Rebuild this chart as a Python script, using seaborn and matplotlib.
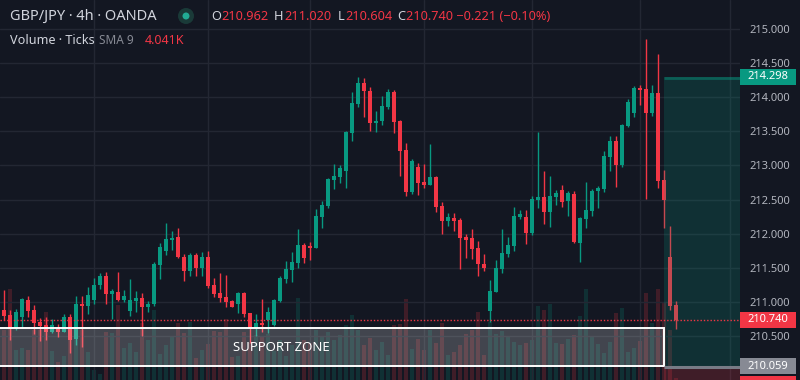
import numpy as np
import pandas as pd
import matplotlib
matplotlib.use("Agg")
import matplotlib.pyplot as plt
import matplotlib.transforms as mtransforms
from matplotlib.patches import Rectangle, Ellipse
import seaborn as sns

# GBP/JPY 4h свечи (O/H/L/C), индекс -1..112
opens = [210.767,
    210.884, 210.811, 210.621, 210.782, 211.031, 210.884, 210.709, 210.665, 210.567, 210.617,
    210.567, 210.786, 210.461, 210.972, 210.943, 211.031, 211.250, 211.382, 211.118, 211.148,
    211.031, 210.870, 211.021, 211.056, 210.933, 210.968, 211.547, 211.752, 211.908, 211.952,
    211.664, 211.459, 211.689, 211.494, 211.659, 211.250, 211.133, 211.075, 211.016, 210.968,
    211.133, 210.836, 210.621, 210.690, 210.738, 210.665, 211.021, 211.342, 211.469, 211.576,
    211.835, 211.820, 211.795, 212.249, 212.405, 212.785, 212.833, 212.921, 213.476, 213.901,
    214.199, 214.086, 213.623, 213.648, 213.857, 214.072, 213.648, 213.224, 212.614, 212.975,
    212.760, 212.716, 212.829, 212.405, 212.190, 212.230, 212.200, 211.956, 211.942, 211.791,
    211.557, 210.874, 211.152, 211.488, 211.708, 211.825, 212.249, 212.244, 212.015, 212.493,
    212.537, 212.317, 212.537, 212.639, 212.478, 212.580, 211.864, 212.215, 212.332, 212.624,
    212.653, 213.121, 213.355, 213.004, 213.575, 213.765, 214.130, 214.116, 213.765, 214.057,
    212.785, 211.659, 210.962]
closes = [210.884,
    210.797, 210.621, 210.855, 211.050, 210.874, 210.699, 210.655, 210.567, 210.665, 210.567,
    210.786, 210.446, 210.972, 210.943, 211.104, 211.250, 211.382, 211.118, 211.167, 211.031,
    211.089, 211.031, 211.056, 210.933, 210.972, 211.557, 211.810, 211.923, 211.937, 211.664,
    211.459, 211.689, 211.503, 211.659, 211.235, 211.123, 211.060, 211.006, 210.933, 211.133,
    210.826, 210.621, 210.690, 210.665, 210.851, 211.031, 211.348, 211.484, 211.586, 211.835,
    211.649, 211.795, 212.259, 212.420, 212.800, 212.844, 212.961, 213.487, 213.911, 214.199,
    214.091, 213.623, 213.648, 213.867, 214.072, 213.637, 213.213, 212.614, 213.063, 212.746,
    212.716, 212.829, 212.395, 212.190, 212.244, 212.190, 211.942, 211.912, 211.781, 211.561,
    211.503, 211.162, 211.498, 211.718, 211.835, 212.259, 212.288, 212.015, 212.507, 212.537,
    212.317, 212.551, 212.595, 212.463, 212.595, 211.879, 212.230, 212.347, 212.624, 212.668,
    213.136, 213.355, 213.004, 213.589, 213.925, 214.130, 214.101, 213.765, 214.057, 212.770,
    212.493, 210.943, 210.740]
highs = [210.958,
    211.177, 210.884, 210.899, 211.064, 211.089, 210.958, 210.763, 210.778, 210.753, 210.680,
    210.826, 210.826, 211.089, 211.089, 211.216, 211.348, 211.421, 211.440, 211.191, 211.440,
    211.177, 211.338, 211.167, 211.129, 211.016, 211.586, 211.860, 212.161, 212.044, 212.083,
    211.699, 211.722, 211.722, 211.733, 211.747, 211.357, 211.425, 211.396, 211.031, 211.148,
    211.148, 210.845, 210.826, 211.045, 210.933, 211.045, 211.382, 211.601, 211.737, 212.064,
    211.868, 211.883, 212.357, 212.485, 212.814, 213.019, 213.004, 213.501, 214.067, 214.291,
    214.276, 214.140, 213.794, 214.013, 214.115, 214.101, 213.662, 213.326, 213.092, 213.034,
    213.023, 213.311, 212.848, 212.463, 212.303, 212.303, 212.230, 211.999, 212.069, 211.893,
    211.703, 211.323, 211.616, 212.069, 211.952, 212.386, 212.347, 212.347, 212.551, 213.487,
    212.917, 212.844, 212.639, 212.712, 212.624, 212.624, 212.244, 212.756, 212.653, 212.697,
    213.209, 213.428, 213.428, 213.604, 213.969, 214.159, 214.174, 214.847, 214.174, 214.627,
    212.932, 212.113, 211.020]
lows = [210.709,
    210.738, 210.446, 210.592, 210.640, 210.786, 210.534, 210.436, 210.446, 210.553, 210.494,
    210.563, 210.260, 210.373, 210.348, 210.826, 210.972, 211.196, 210.972, 210.748, 211.012,
    211.001, 210.797, 210.860, 210.509, 210.860, 210.943, 211.342, 211.689, 211.762, 211.645,
    211.313, 211.386, 211.382, 211.382, 211.211, 211.079, 211.006, 210.933, 210.924, 210.836,
    210.786, 210.398, 210.504, 210.567, 210.553, 210.651, 211.001, 211.275, 211.298, 211.494,
    211.576, 211.616, 211.791, 212.088, 212.380, 212.658, 212.746, 212.673, 213.360, 213.857,
    213.710, 213.506, 213.491, 213.585, 213.828, 213.468, 212.848, 212.551, 212.585, 212.570,
    212.668, 212.716, 212.322, 211.999, 212.117, 212.044, 211.488, 211.649, 211.634, 211.386,
    211.459, 210.713, 211.148, 211.430, 211.664, 211.752, 212.215, 211.849, 211.981, 212.380,
    212.146, 212.102, 212.420, 212.390, 212.259, 211.864, 211.586, 212.083, 212.259, 212.376,
    212.610, 212.917, 212.683, 212.975, 213.560, 213.706, 213.881, 212.507, 213.721, 212.668,
    212.083, 210.885, 210.604]
# объём в тысячах тиков
volumes = [1.75,
    2.50, 4.55, 1.50, 1.60, 1.50, 2.50, 2.50, 3.40, 1.45, 0.90,
    1.20, 2.10, 2.15, 2.50, 1.40, 0.50, 0.30, 2.40, 2.35, 3.75,
    1.60, 1.85, 1.40, 2.85, 2.00, 3.50, 1.30, 1.75, 2.15, 2.85,
    2.35, 2.90, 1.10, 1.50, 1.80, 2.45, 2.40, 3.05, 1.15, 1.20,
    2.40, 1.85, 2.25, 2.15, 2.30, 1.45, 2.00, 1.20, 1.75, 4.10,
    2.00, 1.85, 2.50, 2.15, 2.40, 2.00, 2.25, 2.75, 3.25, 2.50,
    1.75, 2.10, 1.50, 1.90, 1.25, 2.75, 2.80, 4.05, 1.55, 2.05,
    1.50, 2.50, 1.85, 2.85, 1.25, 1.40, 1.75, 2.30, 2.50, 3.40,
    1.25, 2.90, 2.30, 2.45, 2.15, 1.90, 1.75, 1.85, 2.00, 3.70,
    3.50, 3.80, 1.85, 1.80, 2.05, 2.25, 3.20, 4.55, 2.15, 1.80,
    1.35, 1.90, 3.35, 3.60, 1.40, 1.60, 1.95, 4.35, 2.85, 4.55,
    3.85, 2.50, 0.10]

price_ticks = [210.5, 211.0, 211.5, 212.0, 212.5, 213.0, 213.5, 214.0, 214.5, 215.0]
time_grid = [15, 34, 51, 70, 88, 106, 121]

last_price = 210.740
target_price = 214.298
entry_price = 210.059
zone_low, zone_high = 210.060, 210.616
tool_start = 110

BG = "#131722"
UP = "#089981"
DOWN = "#f23645"
GRID = "#232733"
TXT = "#d1d4dc"
AXTXT = "#b2b5be"

sns.set_theme(style="dark", rc={"axes.facecolor": BG, "figure.facecolor": BG})
plt.rcParams["font.family"] = ["Noto Sans", "DejaVu Sans"]

df = pd.DataFrame({"k": np.arange(-1, len(opens) - 1), "open": opens, "high": highs,
                   "low": lows, "close": closes, "vol": volumes})
df["dir"] = np.where(df["close"] >= df["open"], "up", "down")

fig = plt.figure(figsize=(8, 3.8), dpi=100)
rect = [0, 0, 740 / 800, 1]
axv = fig.add_axes(rect)
ax = fig.add_axes(rect)
ax.set_facecolor("none")

xlim = (-0.667, 122.667)
ylim = (209.861, 215.417)

# объём
sns.barplot(data=df, x="k", y="vol", hue="dir", palette={"up": UP, "down": DOWN},
            native_scale=True, dodge=False, width=0.8, alpha=0.2, saturation=1,
            legend=False, errorbar=None, linewidth=0, edgecolor="none", ax=axv)
axv.set_xlim(xlim)
axv.set_ylim(0, 19)
axv.set_axis_off()

# свечи
colors = np.where(df["dir"] == "up", UP, DOWN)
ax.vlines(df["k"], df["low"], df["high"], colors=colors, linewidth=1, zorder=3)
body_lo = df[["open", "close"]].min(axis=1)
body_h = (df["close"] - df["open"]).abs().clip(lower=0.015)
ax.bar(df["k"], body_h, bottom=body_lo, width=0.78, color=colors, linewidth=0, zorder=4)

# зона поддержки
ax.add_patch(Rectangle((-3, zone_low), tool_start + 3, zone_high - zone_low,
                       facecolor=(1, 1, 1, 0.2), edgecolor="white", linewidth=1.4, zorder=6))
ax.text(46.3, (zone_low + zone_high) / 2, "SUPPORT ZONE", color="white", fontsize=9.5,
        ha="center", va="center", zorder=7)

# long position
ax.add_patch(Rectangle((tool_start, entry_price), 20, target_price - entry_price,
                       facecolor=(8 / 255, 153 / 255, 129 / 255, 0.2), linewidth=0, zorder=5))
ax.hlines(target_price - 0.02, tool_start, 130, color=UP, alpha=0.45, linewidth=2, zorder=5)
ax.add_patch(Rectangle((tool_start, 209.0), 20, entry_price - 209.0,
                       facecolor=(242 / 255, 54 / 255, 69 / 255, 0.2), linewidth=0, zorder=5))
ax.hlines(entry_price - 0.015, tool_start, 130, color="#787b86", linewidth=2.2, zorder=6)

ax.axhline(last_price, color=DOWN, linewidth=1, linestyle=(0, (1, 1.4)), zorder=6)

ax.set_xlim(xlim)
ax.set_ylim(ylim)
ax.set_xticks(time_grid)
ax.set_yticks(price_ticks)
ax.set_yticklabels([f"{p:.3f}" for p in price_ticks])
ax.yaxis.tick_right()
ax.tick_params(axis="y", length=0, pad=7, labelsize=8, labelcolor=AXTXT)
ax.tick_params(axis="x", length=0, labelbottom=False)
ax.grid(True, color=GRID, linewidth=1)
for s in ax.spines.values():
    s.set_visible(False)

# ценовые метки справа
trans = mtransforms.blended_transform_factory(ax.transAxes, ax.transData)
for price, col, label in [(target_price, UP, "214.298"), (last_price, DOWN, "210.740"),
                          (entry_price, "#878a94", "210.059"), (209.80, DOWN, "")]:
    ax.add_patch(Rectangle((1.0, price - 0.117), 56 / 740, 0.234, transform=trans,
                           facecolor=col, linewidth=0, clip_on=False, zorder=8))
    if label:
        ax.text(1.0 + 28 / 740, price, label, transform=trans, color="white", fontsize=8,
                ha="center", va="center", clip_on=False, zorder=9)

# заголовок
r = fig.canvas.get_renderer()


def fy(y):
    return 1 - y / 380


fig.text(10 / 800, fy(16), "GBP/JPY · 4h · OANDA", color=TXT, fontsize=10.5, va="center")
fig.add_artist(Ellipse((186 / 800, fy(16)), 16 / 800, 16 / 380, transform=fig.transFigure,
                       facecolor="#1a3a38", linewidth=0))
fig.add_artist(Ellipse((186 / 800, fy(16)), 7 / 800, 7 / 380, transform=fig.transFigure,
                       facecolor="#22ab94", linewidth=0))


def label_pair(x, y, key, val, size=9.2):
    t = fig.text(x / 800, fy(y), key, color=TXT, fontsize=size, va="center")
    w = t.get_window_extent(r).width
    fig.text((x + w + 0.5) / 800, fy(y), val, color=DOWN, fontsize=size, va="center")


label_pair(211, 16, "O", "210.962")
label_pair(274, 16, "H", "211.020")
label_pair(338, 16, "L", "210.604")
label_pair(397, 16, "C", "210.740 −0.221 (−0.10%)")

fig.text(10 / 800, fy(41), "Volume · Ticks", color=TXT, fontsize=9.1, va="center")
fig.text(99 / 800, fy(41), "SMA 9", color="#878a94", fontsize=8.5, va="center")
fig.text(145 / 800, fy(41), "4.041K", color=DOWN, fontsize=9, va="center")

fig.savefig("out.png", dpi=100, facecolor=BG)
